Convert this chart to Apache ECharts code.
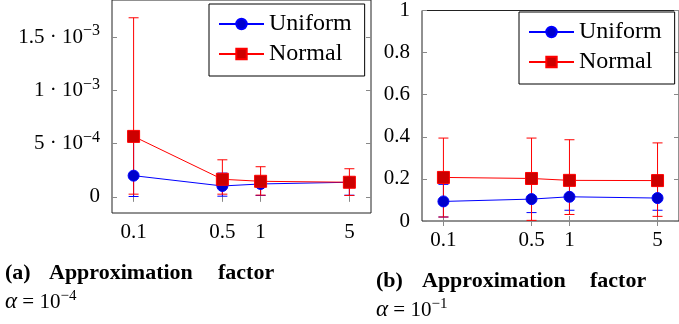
<!DOCTYPE html>
<html>
<head>
<meta charset="utf-8">
<script src="https://cdn.jsdelivr.net/npm/echarts@6/dist/echarts.min.js"></script>
<style>
    html, body { margin: 0; padding: 0; background: #fff; }
    #main { width: 679px; height: 324px; }
</style>
</head>
<body>
<div id="main"></div>
<script>
    // approximation factors (x axis, log scale)
    let factors = [0.1, 0.5, 1, 5];
    let xTickLabels = ['0.1', '0.5', '1', '5'];

    // (a) alpha = 1e-4
    let uniformA = [1.99e-4, 1.02e-4, 1.21e-4, 1.37e-4];
    let uniformALow = [3e-6, 6e-6, 1.3e-5, 1.5e-5];
    let uniformAHigh = [5.4e-4, 2.23e-4, 1.9e-4, 1.8e-4];
    let normalA = [5.68e-4, 1.65e-4, 1.46e-4, 1.37e-4];
    let normalALow = [2.5e-5, 2.5e-5, 1.6e-5, 1.3e-5];
    let normalAHigh = [1.683e-3, 3.48e-4, 2.83e-4, 2.64e-4];
    let yTicksA = [0, 5e-4, 1e-3, 1.5e-3];
    let yLabelsA = ['0', '5 · 10{s|−4}', '1 · 10{s|−3}', '1.5 · 10{s|−3}'];

    // (b) alpha = 1e-1
    let uniformB = [0.093, 0.104, 0.115, 0.109];
    let uniformBLow = [0.019, 0.04, 0.051, 0.051];
    let uniformBHigh = [0.174, 0.176, 0.178, 0.172];
    let normalB = [0.207, 0.202, 0.193, 0.192];
    let normalBLow = [0.019, 0.003, 0.031, 0.022];
    let normalBHigh = [0.394, 0.394, 0.386, 0.371];

    let font = 'Liberation Serif';

    let pairs = (ys)=> factors.map((x, i)=> [x, ys[i]]);
    let bars = (lo, hi)=> factors.map((x, i)=> [x, lo[i], hi[i]]);

    function errorBar(color) {
        return function (params, api) {
            let x = api.value(0);
            let lo = api.coord([x, api.value(1)]);
            let hi = api.coord([x, api.value(2)]);
            let w = 5;
            let st = {stroke: color, lineWidth: 1};
            return {type: 'group', children: [
                {type: 'line', shape: {x1: lo[0], y1: lo[1], x2: hi[0], y2: hi[1]}, style: st},
                {type: 'line', shape: {x1: lo[0] - w, y1: lo[1], x2: lo[0] + w, y2: lo[1]}, style: st},
                {type: 'line', shape: {x1: hi[0] - w, y1: hi[1], x2: hi[0] + w, y2: hi[1]}, style: st}
            ]};
        };
    }

    function nearestLabel(v, ticks, labels) {
        let best = 0;
        for (let i = 1; i < ticks.length; i++) {
            if (Math.abs(ticks[i] - v) < Math.abs(ticks[best] - v)) best = i;
        }
        return labels[best];
    }

    let tickStyle = {inside: true, length: 5, lineStyle: {color: '#888'}};

    function xAxisFor(grid, pos, withLabels) {
        return {
            type: 'log', gridIndex: grid, position: pos,
            min: 0.0676, max: 7.40,
            axisLine: {show: false},
            splitLine: {show: false},
            axisTick: Object.assign({customValues: factors}, tickStyle),
            axisLabel: {
                show: withLabels, customValues: factors, margin: 9,
                color: '#000', fontFamily: font, fontSize: 21,
                formatter: (v)=> nearestLabel(v, factors, xTickLabels)
            }
        };
    }

    function series(name, grid, vals, lo, hi, lineColor, fill, symbol, size) {
        return [{
            name: name + ' err', type: 'custom', xAxisIndex: grid * 2, yAxisIndex: grid * 2,
            renderItem: errorBar(lineColor), data: bars(lo, hi), encode: {x: 0, y: [1, 2]}
        }, {
            name: name, type: 'line', xAxisIndex: grid * 2, yAxisIndex: grid * 2,
            data: pairs(vals), symbol: symbol, symbolSize: size,
            lineStyle: {color: lineColor, width: 1},
            itemStyle: {color: fill, borderColor: lineColor, borderWidth: 1}
        }];
    }

    let legendBase = {
        orient: 'vertical', itemWidth: 45, itemHeight: 13, itemGap: 6,
        backgroundColor: '#fff', borderColor: '#000', borderWidth: 1,
        padding: [8, 13, 10, 9],
        data: ['Uniform', 'Normal'],
        textStyle: {fontFamily: font, fontSize: 24, color: '#000', lineHeight: 24}
    };

    let capBold = {fill: '#000', font: 'bold 22px "Liberation Serif"', textVerticalAlign: 'middle'};
    function capWord(text, x, y) {
        return {type: 'text', left: x, top: y - 12, style: Object.assign({text: text}, capBold)};
    }
    function capAlpha(exp, x, y) {
        return {type: 'text', left: x, top: y - 13, style: {
            text: '{i|α} = 10{s|' + exp + '}', fill: '#000',
            font: '21px "Liberation Serif"',
            rich: {
                i: {fontFamily: font, fontStyle: 'italic', fontSize: 23},
                s: {fontFamily: font, fontSize: 15, padding: [0, 0, 11, 0]}
            }
        }};
    }

    let myChart = echarts.init(document.getElementById('main'));
    let option = {
        backgroundColor: '#fff',
        animation: false,
        grid: [
            {left: 112, top: -2, width: 259, height: 215, show: true, borderColor: '#222', borderWidth: 1},
            {left: 422, top: 6, width: 258, height: 215, show: true, borderColor: '#222', borderWidth: 1}
        ],
        xAxis: [
            xAxisFor(0, 'bottom', true),
            xAxisFor(0, 'top', false),
            xAxisFor(1, 'bottom', true),
            xAxisFor(1, 'top', false)
        ],
        yAxis: [{
            type: 'value', gridIndex: 0, position: 'left',
            min: -1.52e-4, max: 1.85e-3,
            axisLine: {show: false}, splitLine: {show: false},
            axisTick: Object.assign({customValues: yTicksA}, tickStyle),
            axisLabel: {
                customValues: yTicksA, margin: 12, color: '#000', fontFamily: font, fontSize: 21,
                formatter: (v)=> nearestLabel(v, yTicksA, yLabelsA),
                rich: {s: {fontFamily: font, fontSize: 16, color: '#000', padding: [0, 0, 12, 0]}}
            }
        }, {
            type: 'value', gridIndex: 0, position: 'right',
            min: -1.52e-4, max: 1.85e-3,
            axisLine: {show: false}, splitLine: {show: false},
            axisTick: Object.assign({customValues: yTicksA}, tickStyle),
            axisLabel: {show: false}
        }, {
            type: 'value', gridIndex: 1, position: 'left',
            min: 0, max: 1, interval: 0.2,
            axisLine: {show: false}, splitLine: {show: false},
            axisTick: tickStyle,
            axisLabel: {margin: 12, color: '#000', fontFamily: font, fontSize: 21}
        }, {
            type: 'value', gridIndex: 1, position: 'right',
            min: 0, max: 1, interval: 0.2,
            axisLine: {show: false}, splitLine: {show: false},
            axisTick: tickStyle,
            axisLabel: {show: false}
        }],
        legend: [
            Object.assign({left: 209, top: 4}, legendBase),
            Object.assign({left: 519, top: 12}, legendBase)
        ],
        series: [].concat(
            series('Uniform', 0, uniformA, uniformALow, uniformAHigh, '#0000ff', '#0000cc', 'circle', 11),
            series('Normal', 0, normalA, normalALow, normalAHigh, '#ff0000', '#cc0000', 'rect', 12),
            series('Uniform', 1, uniformB, uniformBLow, uniformBHigh, '#0000ff', '#0000cc', 'circle', 11),
            series('Normal', 1, normalB, normalBLow, normalBHigh, '#ff0000', '#cc0000', 'rect', 12)
        ),
        graphic: [
            capWord('(a)', 5, 274), capWord('Approximation', 49, 274), capWord('factor', 218, 274),
            capAlpha('−4', 5, 302),
            capWord('(b)', 376, 282), capWord('Approximation', 422, 282), capWord('factor', 590, 282),
            capAlpha('−1', 376, 310)
        ]
    };
    myChart.setOption(option);
</script>
</body>
</html>
